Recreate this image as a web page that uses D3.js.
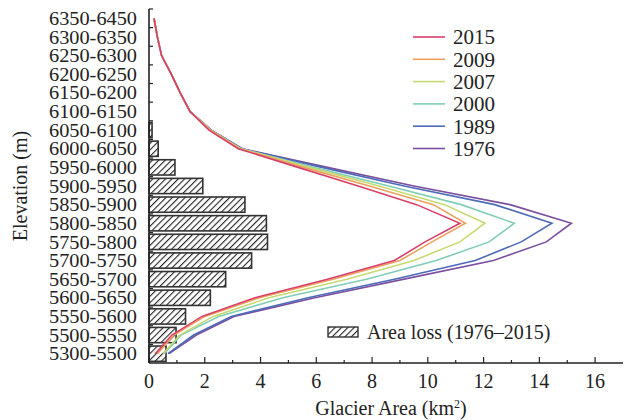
<!DOCTYPE html>
<html>
<head>
  <script src="https://cdn.jsdelivr.net/npm/d3@7"></script>
  <style>
    body { margin: 0; background: #fff; }
    text { font-family: "Liberation Serif", "Times New Roman", serif; fill: #222; }
  </style>
</head>
<body>
  <script>
    // elevation bands, top to bottom
    var bands = ["6350-6450", "6300-6350", "6250-6300", "6200-6250", "6150-6200",
      "6100-6150", "6050-6100", "6000-6050", "5950-6000", "5900-5950",
      "5850-5900", "5800-5850", "5750-5800", "5700-5750", "5650-5700",
      "5600-5650", "5550-5600", "5500-5550", "5300-5500"];

    var years = ["2015", "2009", "2007", "2000", "1989", "1976"];
    var colors = ["#d8406a", "#eda15c", "#c6da72", "#80cdb6", "#4d6ab8", "#7a4f9e"];

    var area2015 = [0.18, 0.3, 0.45, 0.8, 1.12, 1.47, 2.15, 3.2, 5.35, 7.5, 9.6, 11.15, 9.9, 8.8, 6.4, 3.8, 1.9, 0.82, 0.22];
    var area2009 = [0.18, 0.3, 0.45, 0.8, 1.12, 1.47, 2.2, 3.25, 5.55, 7.9, 10.2, 11.35, 10.15, 9.0, 6.6, 3.95, 2.0, 0.9, 0.3];
    var area2007 = [0.18, 0.3, 0.45, 0.8, 1.12, 1.47, 2.2, 3.28, 5.75, 8.25, 10.6, 12.05, 11.15, 9.5, 7.1, 4.3, 2.3, 1.1, 0.5];
    var area2000 = [0.18, 0.3, 0.45, 0.8, 1.12, 1.47, 2.22, 3.3, 5.9, 8.6, 11.2, 13.1, 12.2, 10.3, 7.8, 4.8, 2.5, 1.15, 0.55];
    var area1989 = [0.18, 0.3, 0.45, 0.8, 1.12, 1.47, 2.22, 3.32, 6.2, 9.15, 12.4, 14.45, 13.35, 11.7, 8.8, 5.7, 2.95, 1.6, 0.68];
    var area1976 = [0.18, 0.3, 0.45, 0.8, 1.12, 1.47, 2.24, 3.35, 6.4, 9.5, 12.95, 15.15, 14.25, 12.35, 9.15, 5.95, 3.05, 1.7, 0.72];

    var areaLoss = [0, 0, 0, 0, 0, 0, 0.11, 0.33, 0.93, 1.93, 3.44, 4.21, 4.25, 3.68, 2.75, 2.2, 1.31, 0.97, 0.61];

    var xTicks = [0, 2, 4, 6, 8, 10, 12, 14, 16];
    var series = [area2015, area2009, area2007, area2000, area1989, area1976];

    var width = 628, height = 420;
    var plotLeft = 149, plotRight = 623, plotTop = 9, plotBottom = 363;

    var svg = d3.select("body").append("svg")
      .attr("width", width)
      .attr("height", height);

    var defs = svg.append("defs");
    var pat = defs.append("pattern")
      .attr("id", "hatch")
      .attr("patternUnits", "userSpaceOnUse")
      .attr("width", 4.5)
      .attr("height", 4.5)
      .attr("patternTransform", "rotate(45)");
    pat.append("rect").attr("width", 4.5).attr("height", 4.5).attr("fill", "#fff");
    pat.append("line")
      .attr("x1", 0).attr("y1", 0).attr("x2", 0).attr("y2", 4.5)
      .attr("stroke", "#222").attr("stroke-width", 2.2);

    var x = d3.scaleLinear().domain([0, 17]).range([plotLeft, plotRight]);
    var y = d3.scaleBand().domain(bands).range([plotTop, plotBottom]);
    var bh = y.bandwidth() * 0.82;

    // bars
    svg.append("g")
      .selectAll("rect")
      .data(bands.map((b, i) => ({band: b, v: areaLoss[i]})).filter(d => d.v > 0))
      .enter().append("rect")
      .attr("x", x(0))
      .attr("y", d => y(d.band) + (y.bandwidth() - bh) / 2)
      .attr("width", d => x(d.v) - x(0))
      .attr("height", bh)
      .attr("fill", "url(#hatch)")
      .attr("stroke", "#333")
      .attr("stroke-width", 1.6);

    // lines
    var line = d3.line()
      .x(d => x(d.v))
      .y(d => y(d.band) + y.bandwidth() / 2);

    // draw 1976 first so 2015 ends on top
    for (var k = series.length - 1; k >= 0; k--) {
      svg.append("path")
        .datum(bands.map((b, i) => ({band: b, v: series[k][i]})))
        .attr("d", line)
        .attr("fill", "none")
        .attr("stroke", colors[k])
        .attr("stroke-width", 1.6);
    }

    // x axis
    var xAxis = svg.append("g").attr("transform", "translate(0," + plotBottom + ")");
    xAxis.append("line")
      .attr("x1", plotLeft).attr("x2", plotRight)
      .attr("stroke", "#222").attr("stroke-width", 1.6);
    xAxis.selectAll(".major")
      .data(xTicks)
      .enter().append("line")
      .attr("x1", d => x(d)).attr("x2", d => x(d))
      .attr("y1", 0).attr("y2", -6)
      .attr("stroke", "#222").attr("stroke-width", 1.2);
    xAxis.selectAll(".minor")
      .data(d3.range(1, 17, 2))
      .enter().append("line")
      .attr("x1", d => x(d)).attr("x2", d => x(d))
      .attr("y1", 0).attr("y2", -3)
      .attr("stroke", "#222").attr("stroke-width", 1.2);
    xAxis.selectAll("text")
      .data(xTicks)
      .enter().append("text")
      .attr("x", d => x(d))
      .attr("y", 25)
      .attr("text-anchor", "middle")
      .style("font-size", "20px")
      .text(d => d);

    var xt = svg.append("text")
      .attr("x", 391)
      .attr("y", 415)
      .attr("text-anchor", "middle")
      .style("font-size", "20px");
    xt.append("tspan").text("Glacier Area (km");
    xt.append("tspan").attr("dy", -7).style("font-size", "12px").text("2");
    xt.append("tspan").attr("dy", 7).text(")");

    // y axis
    var yAxis = svg.append("g");
    yAxis.append("line")
      .attr("x1", plotLeft).attr("x2", plotLeft)
      .attr("y1", plotTop).attr("y2", plotBottom)
      .attr("stroke", "#222").attr("stroke-width", 1.6);
    yAxis.selectAll(".tick")
      .data(bands)
      .enter().append("line")
      .attr("x1", plotLeft).attr("x2", plotLeft + 4)
      .attr("y1", d => y(d)).attr("y2", d => y(d))
      .attr("stroke", "#222").attr("stroke-width", 1.2);
    yAxis.selectAll("text")
      .data(bands)
      .enter().append("text")
      .attr("x", 137)
      .attr("y", d => y(d) + y.bandwidth() / 2)
      .attr("dy", "0.35em")
      .attr("text-anchor", "end")
      .attr("textLength", 88)
      .attr("lengthAdjust", "spacingAndGlyphs")
      .style("font-size", "19px")
      .text(d => d);

    svg.append("text")
      .attr("transform", "translate(27,186) rotate(-90)")
      .attr("text-anchor", "middle")
      .style("font-size", "20px")
      .text("Elevation (m)");

    // legend for lines
    var legend = svg.append("g");
    years.forEach(function (yr, i) {
      var ly = 37 + i * 22.3;
      legend.append("line")
        .attr("x1", 413).attr("x2", 445)
        .attr("y1", ly).attr("y2", ly)
        .attr("stroke", colors[i]).attr("stroke-width", 1.6);
      legend.append("text")
        .attr("x", 453).attr("y", ly)
        .attr("dy", "0.35em")
        .style("font-size", "21px")
        .text(yr);
    });

    // legend for bars
    svg.append("rect")
      .attr("x", 328).attr("y", 327)
      .attr("width", 30).attr("height", 10)
      .attr("fill", "url(#hatch)")
      .attr("stroke", "#333").attr("stroke-width", 1.4);
    svg.append("text")
      .attr("x", 367).attr("y", 332)
      .attr("dy", "0.35em")
      .style("font-size", "20px")
      .text("Area loss (1976\u20132015)");
  </script>
</body>
</html>
